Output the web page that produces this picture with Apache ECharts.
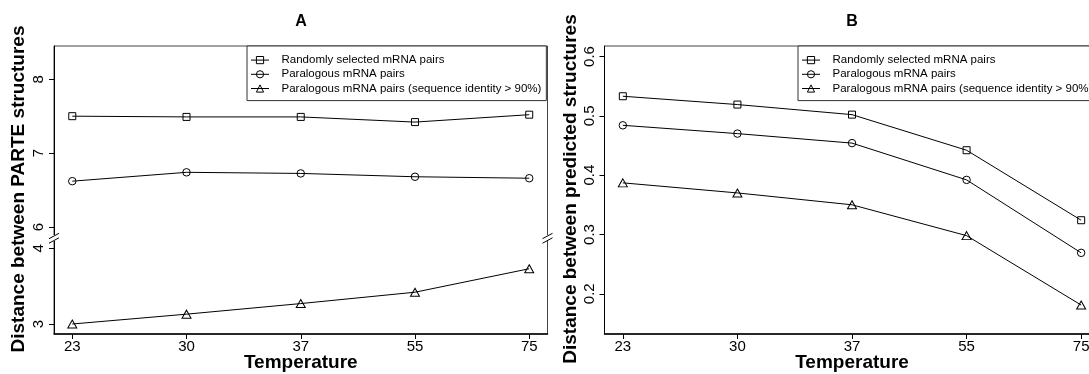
<!DOCTYPE html>
<html>
<head>
<meta charset="utf-8">
<script src="https://cdn.jsdelivr.net/npm/echarts@6/dist/echarts.min.js"></script>
<style>
html,body{margin:0;padding:0;background:#fff;}
#chart{width:1089px;height:374px;}
</style>
</head>
<body>
<div id="chart"></div>
<script>
// ---- data ----
const temperatures = ['23', '30', '37', '55', '75'];
const seriesNames = [
  'Randomly selected mRNA pairs',
  'Paralogous mRNA pairs',
  'Paralogous mRNA pairs (sequence identity > 90%)'
];
// Panel A: distance between PARTE structures
const parteRandom    = [7.50, 7.49, 7.49, 7.42, 7.52];
const parteParalog   = [6.62, 6.74, 6.725, 6.68, 6.66];
const parteParalog90 = [3.00, 3.13, 3.27, 3.42, 3.73];
// Panel B: distance between predicted structures
const predRandom    = [0.533, 0.519, 0.502, 0.442, 0.324];
const predParalog   = [0.484, 0.470, 0.454, 0.392, 0.269];
const predParalog90 = [0.387, 0.370, 0.350, 0.298, 0.181];
// tick labels
const ticksAUpper = [6, 7, 8];
const ticksALower = [3, 4];
const ticksB = [0.2, 0.3, 0.4, 0.5, 0.6];

// ---- layout ----
const FONT = 'Liberation Sans, Arial, Helvetica, sans-serif';
const A_LEFT = 54, A_WIDTH = 493.5;
const B_LEFT = 604.5, B_WIDTH = 495;
const TOP = 46, BOTTOM = 334;
const BREAK_TOP = 236, BREAK_BOTTOM = 240.5;

const chart = echarts.init(document.getElementById('chart'), null, {renderer: 'canvas'});

function pts(arr) { return arr.map((v, i) => [i, v]); }

const symbols = ['rect', 'circle', 'triangle'];
const symbolSizes = [7, 7.5, [9, 8]];

function makeSeries(name, idx, data, gridAxis) {
  return {
    type: 'line',
    name: name,
    xAxisIndex: gridAxis,
    yAxisIndex: gridAxis,
    data: pts(data),
    symbol: symbols[idx],
    symbolSize: symbolSizes[idx],
    showAllSymbol: true,
    lineStyle: {color: '#000', width: 1},
    itemStyle: {color: 'rgba(0,0,0,0)', borderColor: '#000', borderWidth: 1},
    emphasis: {disabled: true},
    animation: false
  };
}

function xAxisDef(gridIndex, show) {
  return {
    type: 'value', gridIndex: gridIndex, min: -0.16, max: 4.16,
    show: show,
    splitLine: {show: false},
    axisLine: {show: true, onZero: false, lineStyle: {color: '#000', width: 1.5}},
    axisTick: {show: true, length: 5, customValues: [0, 1, 2, 3, 4], lineStyle: {color: '#000'}},
    axisLabel: {
      customValues: [0, 1, 2, 3, 4],
      formatter: v => temperatures[Math.round(v)],
      fontFamily: FONT, fontSize: 15, color: '#000', margin: 5
    },
    name: show ? 'Temperature' : '',
    nameLocation: 'middle', nameGap: 19, nameMoveOverlap: false,
    nameTextStyle: {fontFamily: FONT, fontSize: 19, fontWeight: 'bold', color: '#000'}
  };
}

function yAxisDef(gridIndex, min, max, ticks, margin) {
  return {
    type: 'value', gridIndex: gridIndex, min: min, max: max,
    splitLine: {show: false},
    axisLine: {show: true, onZero: false, lineStyle: {color: '#000', width: 1}},
    axisTick: {show: true, length: 5, customValues: ticks, lineStyle: {color: '#000'}},
    axisLabel: {
      customValues: ticks, rotate: 90,
      formatter: v => String(v),
      fontFamily: FONT, fontSize: 15, color: '#000', margin: margin
    }
  };
}

function legendDef(left) {
  return {
    left: left, top: TOP, orient: 'vertical',
    data: seriesNames,
    selectedMode: false,
    borderColor: '#333', borderWidth: 1, borderRadius: 0,
    backgroundColor: '#fff',
    padding: [7, 5, 5, 3.5],
    itemWidth: 18, itemHeight: 9, itemGap: 0,
    lineStyle: {width: 1},
    itemStyle: {borderWidth: 1},
    textStyle: {fontFamily: FONT, fontSize: 11.5, color: '#000', lineHeight: 14.2, padding: [0, 0, 0, 7.5]}
  };
}

function slash(x, y) {
  return {
    type: 'line', z: 101,
    shape: {x1: x - 5, y1: y + 2.7, x2: x + 5, y2: y - 2.7},
    style: {stroke: '#000', lineWidth: 1}
  };
}

function gridDef(left, top, width, height) {
  return {left: left, top: top, width: width, height: height,
    outerBoundsMode: 'none', containLabel: false,
    show: true, borderColor: '#444', borderWidth: 1, backgroundColor: 'rgba(0,0,0,0)'};
}

const option = {
  backgroundColor: '#fff',
  animation: false,
  title: [
    {text: 'A', left: 301, top: 14, padding: 0, textAlign: 'center',
     textStyle: {fontFamily: FONT, fontSize: 16, fontWeight: 'bold', color: '#000'}},
    {text: 'B', left: 852, top: 14, padding: 0, textAlign: 'center',
     textStyle: {fontFamily: FONT, fontSize: 16, fontWeight: 'bold', color: '#000'}}
  ],
  grid: [
    gridDef(A_LEFT, TOP, A_WIDTH, BREAK_TOP - TOP),
    gridDef(A_LEFT, BREAK_BOTTOM, A_WIDTH, BOTTOM - BREAK_BOTTOM),
    gridDef(B_LEFT, TOP, B_WIDTH, BOTTOM - TOP)
  ],
  xAxis: [xAxisDef(0, false), xAxisDef(1, true), xAxisDef(2, true)],
  yAxis: [
    yAxisDef(0, 5.878, 8.45, ticksAUpper, 8),
    yAxisDef(1, 2.868, 4.103, ticksALower, 8),
    yAxisDef(2, 0.1322, 0.6177, ticksB, 7)
  ],
  legend: [legendDef(247), legendDef(798)],
  series: [
    makeSeries(seriesNames[0], 0, parteRandom, 0),
    makeSeries(seriesNames[1], 1, parteParalog, 0),
    makeSeries(seriesNames[2], 2, parteParalog90, 1),
    makeSeries(seriesNames[0], 0, predRandom, 2),
    makeSeries(seriesNames[1], 1, predParalog, 2),
    makeSeries(seriesNames[2], 2, predParalog90, 2)
  ],
  graphic: [
    {type: 'rect', z: 100, shape: {x: A_LEFT - 6, y: BREAK_TOP - 1, width: A_WIDTH + 12, height: BREAK_BOTTOM - BREAK_TOP + 1.6},
     style: {fill: '#fff'}},
    slash(A_LEFT, BREAK_TOP), slash(A_LEFT, BREAK_BOTTOM),
    slash(A_LEFT + A_WIDTH, BREAK_TOP), slash(A_LEFT + A_WIDTH, BREAK_BOTTOM),
    {type: 'text', z: 101, x: 18.5, y: 189, rotation: Math.PI / 2,
     style: {text: 'Distance between PARTE structures', fontFamily: FONT, fontSize: 19, fontWeight: 'bold',
             fill: '#000', textAlign: 'center', textVerticalAlign: 'middle'}},
    {type: 'text', z: 101, x: 570.5, y: 189, rotation: Math.PI / 2,
     style: {text: 'Distance between predicted structures', fontFamily: FONT, fontSize: 19, fontWeight: 'bold',
             fill: '#000', textAlign: 'center', textVerticalAlign: 'middle'}}
  ]
};
chart.setOption(option);
</script>
</body>
</html>
